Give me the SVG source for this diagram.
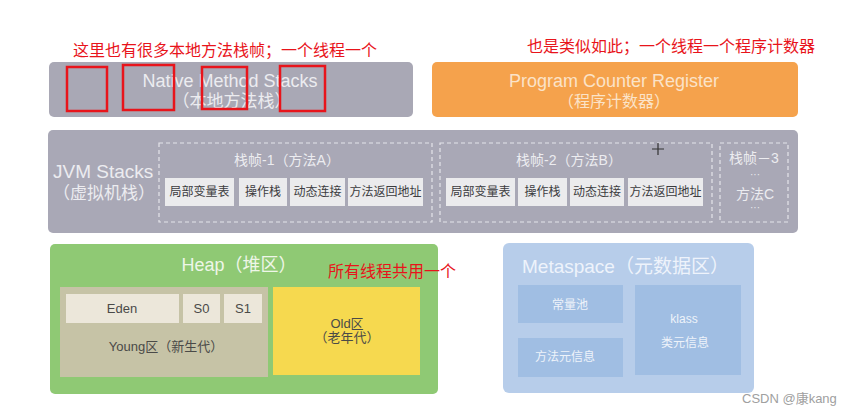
<svg xmlns="http://www.w3.org/2000/svg" width="847" height="414" viewBox="0 0 847 414">
<style>
.t{font-family:"Liberation Sans","Noto Sans CJK SC",sans-serif}
.lt{fill:#ececf0}
.red{fill:#e8141b;font-size:16px}
.rb{fill:none;stroke:#e8141b;stroke-width:2.5}
.dash{fill:none;stroke:#e4e4ea;stroke-width:1.2;stroke-dasharray:4 3}
.cell{fill:#ebebed}
.ct{fill:#3c3c40;font-size:12px;text-anchor:middle}
.yc{fill:#ece7da}
.dk{fill:#4a4a48;font-size:13px;text-anchor:middle}
.mb{fill:#a0bee3}
.mt{fill:#eef3fa;font-size:12px;text-anchor:middle}
</style>
<rect width="847" height="414" fill="#ffffff"/>

<g id="native">
<rect x="49" y="62" width="364" height="55" rx="5" fill="#a9a8b5"/>
<text class="t lt" x="230" y="87" font-size="18" text-anchor="middle">Native Method Stacks</text>
<text class="t lt" x="232" y="107" font-size="17" text-anchor="middle">（本地方法栈）</text>
</g>

<g id="pc">
<rect x="432" y="62" width="366" height="55" rx="5" fill="#f5a24c"/>
<text class="t" x="614" y="87" font-size="18" text-anchor="middle" fill="#fbe3c8">Program Counter Register</text>
<text class="t" x="614" y="107" font-size="16" text-anchor="middle" fill="#fbe3c8">（程序计数器）</text>
</g>

<g id="jvm">
<rect x="48" y="130" width="750" height="103" rx="5" fill="#a9a8b6"/>
<text class="t lt" x="53" y="178" font-size="19">JVM Stacks</text>
<text class="t lt" x="53" y="199" font-size="17">（虚拟机栈）</text>
</g>

<g id="frame1">
<rect class="dash" x="159" y="143" width="273" height="79"/>
<text class="t lt" x="287" y="165" font-size="14" text-anchor="middle">栈帧-1（方法A）</text>
<rect class="cell" x="165" y="178" width="69" height="28"/>
<rect class="cell" x="239" y="178" width="48" height="28"/>
<rect class="cell" x="290" y="178" width="55" height="28"/>
<rect class="cell" x="348" y="178" width="75" height="28"/>
<text class="t ct" x="199.5" y="196">局部变量表</text>
<text class="t ct" x="263" y="196">操作栈</text>
<text class="t ct" x="317.5" y="196">动态连接</text>
<text class="t ct" x="385.5" y="196">方法返回地址</text>
</g>

<g id="frame2">
<rect class="dash" x="440" y="143" width="272" height="79"/>
<text class="t lt" x="569" y="165" font-size="14" text-anchor="middle">栈帧-2（方法B）</text>
<rect class="cell" x="446" y="178" width="69" height="28"/>
<rect class="cell" x="518" y="178" width="49" height="28"/>
<rect class="cell" x="570" y="178" width="54" height="28"/>
<rect class="cell" x="628" y="178" width="75" height="28"/>
<text class="t ct" x="480.5" y="196">局部变量表</text>
<text class="t ct" x="542.5" y="196">操作栈</text>
<text class="t ct" x="597" y="196">动态连接</text>
<text class="t ct" x="665.5" y="196">方法返回地址</text>
</g>

<g id="frame3">
<rect class="dash" x="720" y="143" width="68" height="79"/>
<text class="t lt" x="754" y="163" font-size="14" text-anchor="middle">栈帧－3</text>
<text class="t lt" x="755" y="178" font-size="10" text-anchor="middle">···</text>
<text class="t lt" x="755" y="199" font-size="14" text-anchor="middle">方法C</text>
<text class="t lt" x="755" y="211" font-size="10" text-anchor="middle">···</text>
</g>

<g id="cursor">
<path d="M658 143v12M652 149h12" stroke="#333" stroke-width="1.2" fill="none"/>
</g>

<g id="heap">
<rect x="50" y="244" width="388" height="150" rx="5" fill="#8fc974"/>
<text class="t" x="239" y="271" font-size="18" text-anchor="middle" fill="#eef6e8">Heap（堆区）</text>
</g>

<g id="young">
<rect x="60" y="287" width="208" height="90" fill="#c6c3a6"/>
<rect class="yc" x="66" y="294" width="113" height="29"/>
<rect class="yc" x="183" y="294" width="37" height="29"/>
<rect class="yc" x="224" y="294" width="38" height="29"/>
<text class="t dk" x="122" y="313">Eden</text>
<text class="t dk" x="201.5" y="313">S0</text>
<text class="t dk" x="243" y="313">S1</text>
<text class="t dk" x="166" y="351">Young区（新生代）</text>
</g>

<g id="old">
<rect x="273" y="287" width="147" height="88" fill="#f6d94f"/>
<text class="t dk" x="347" y="328" font-size="12">Old区</text>
<text class="t dk" x="347" y="342" font-size="12">（老年代）</text>
</g>

<g id="metaspace">
<rect x="503" y="243" width="251" height="150" rx="6" fill="#b7cdea"/>
<text class="t" x="522" y="273" font-size="19" fill="#eef3fb">Metaspace（元数据区）</text>
<rect class="mb" x="518" y="285" width="105" height="38"/>
<rect class="mb" x="518" y="338" width="105" height="39"/>
<rect class="mb" x="635" y="285" width="106" height="90"/>
<text class="t mt" x="570" y="309">常量池</text>
<text class="t mt" x="565" y="361">方法元信息</text>
<text class="t mt" x="684" y="323">klass</text>
<text class="t mt" x="685" y="347">类元信息</text>
</g>

<g id="annotations">
<text class="t red" x="73" y="56">这里也有很多本地方法栈帧；一个线程一个</text>
<text class="t red" x="527" y="52">也是类似如此；一个线程一个程序计数器</text>
<text class="t red" x="328" y="277">所有线程共用一个</text>
<rect class="rb" x="67" y="67" width="40" height="44"/>
<rect class="rb" x="123" y="65" width="51" height="45"/>
<rect class="rb" x="202" y="67" width="45" height="42"/>
<rect class="rb" x="280" y="66" width="45" height="45"/>
</g>

<text class="t" x="742" y="403" font-size="13" fill="#a0a0a0">CSDN @康kang</text>
</svg>
